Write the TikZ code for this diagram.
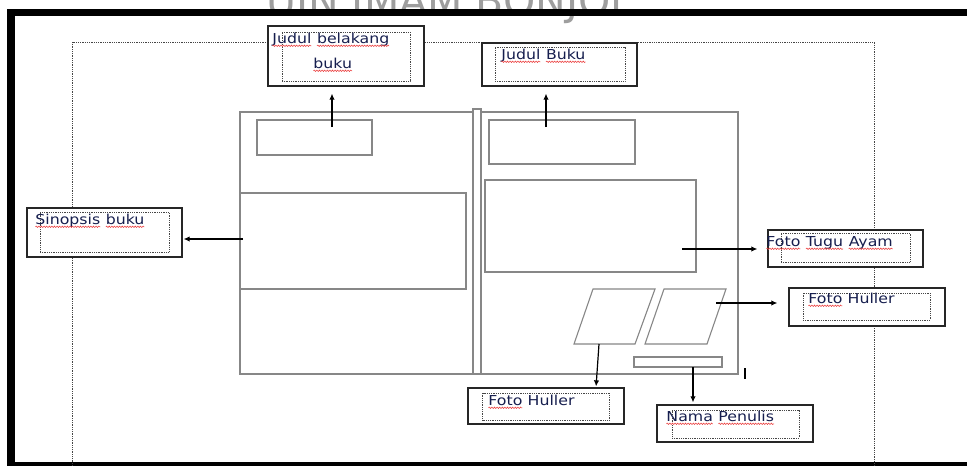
\documentclass[tikz,border=0pt]{standalone}
\usepackage{fontspec}
\newfontfamily\lblfont[FakeStretch=1.15]{DejaVu Sans}
\newfontfamily\wmfont{DejaVu Sans}
\usetikzlibrary{arrows.meta,decorations.pathmorphing,calc}
\definecolor{txtc}{RGB}{22,30,78}
\definecolor{bookc}{RGB}{135,135,135}
\definecolor{dotc}{RGB}{70,70,70}
\definecolor{wavec}{RGB}{235,60,60}
\newcommand\wv[1]{\tikz[baseline=(w.base)]{\node[inner sep=0pt,outer sep=0pt,text=txtc](w){#1};\draw[wavec,line width=0.55pt,decorate,decoration={snake,amplitude=0.7pt,segment length=2.6pt}]([yshift=-2.8pt]w.base west)--([yshift=-2.8pt]w.base east);}}
\tikzset{
  bookline/.style={draw=bookc,line width=1.5pt},
  thinbook/.style={draw=bookc,line width=1.1pt},
  lblbox/.style={draw=black!85,line width=1.3pt,fill=white,inner sep=0pt},
  dotbox/.style={draw=dotc,line width=0.8pt,dash pattern=on 0.9pt off 0.9pt,inner sep=0pt},
  pagedot/.style={draw=dotc,line width=0.8pt,dash pattern=on 0.9pt off 0.9pt},
  lbltext/.style={text=txtc,font=\lblfont\fontsize{13.7}{16}\selectfont,inner sep=0pt,anchor=base west},
  arr/.style={draw=black,line width=1.2pt,-{Latex[length=6pt,width=5.5pt]}},
}
\begin{document}
\begin{tikzpicture}[x=1pt,y=-1pt]
\useasboundingbox (0,0) rectangle (967,466);
\clip (0,0) rectangle (967,466);
\fill[white] (0,0) rectangle (967,466);
% watermark (cut at the top edge, as in the reference)
\node[anchor=base west,inner sep=0pt,text=black!38,font=\wmfont\fontsize{41}{46}\selectfont] (wm) at (266,15) {UIN IMAM BONJOL};
% outer frame
\draw[line width=7.5pt] (11,12.5) rectangle (1000,466);
% page outline
\draw[pagedot] (72,42) rectangle (874,480);
% book
\draw[bookline] (240,112) rectangle (738,374);
\draw[bookline,fill=white] (473,109) rectangle (481,374);
\draw[bookline] (257,120) rectangle (372,155);
\draw[bookline] (240,193) rectangle (466,289);
\draw[bookline] (489,120) rectangle (635,164);
\draw[bookline] (485,180) rectangle (696,272);
\draw[thinbook] (574,344) -- (635,344) -- (655,289) -- (593,289) -- cycle;
\draw[thinbook] (645,344) -- (707,344) -- (726,289) -- (664,289) -- cycle;
\draw[thinbook] (634,357) rectangle (722,367);
\draw[line width=2.6pt] (745,368) -- (745,379);
% label boxes
\node[lblbox,minimum width=156,minimum height=60] (jb) at (346,56) {};
\node[dotbox,minimum width=128,minimum height=49] (jbi) at (346,56.5) {};
\node[lblbox,minimum width=155,minimum height=43] (bk) at (559.5,64.5) {};
\node[dotbox,minimum width=130,minimum height=34] (bki) at (560,64) {};
\node[lblbox,minimum width=155,minimum height=49] (sn) at (104.5,232.5) {};
\node[dotbox,minimum width=129,minimum height=40] (sni) at (104.5,232) {};
\node[lblbox,minimum width=155,minimum height=37] (tg) at (845.5,248.5) {};
\node[dotbox,minimum width=129,minimum height=29] (tgi) at (845.5,247.5) {};
\node[lblbox,minimum width=156,minimum height=38] (fh1) at (867,307) {};
\node[dotbox,minimum width=127,minimum height=27] (fh1i) at (866.5,306.5) {};
\node[lblbox,minimum width=156,minimum height=36] (fh2) at (546,406) {};
\node[dotbox,minimum width=127,minimum height=27] (fh2i) at (546,406.5) {};
\node[lblbox,minimum width=156,minimum height=37] (np) at (735,423.5) {};
\node[dotbox,minimum width=127,minimum height=28] (npi) at (735.5,424) {};
% texts
\node[lbltext] (t1) at (272,43) {\wv{Judul} \wv{belakang}};
\node[lbltext] (t1b) at (313,68) {\wv{buku}};
\node[lbltext] (t2) at (501,59) {\wv{Judul} \wv{Buku}};
\node[lbltext] (t3) at (35,224) {\wv{Sinopsis} \wv{buku}};
\node[lbltext] (t4) at (766,246) {\wv{Foto} \wv{Tugu} \wv{Ayam}};
\node[lbltext] (t5) at (808,303) {\wv{Foto} Huller};
\node[lbltext] (t6) at (488,405) {\wv{Foto} Huller};
\node[lbltext] (t7) at (666,421) {\wv{Nama} \wv{Penulis}};
% arrow start points
\coordinate (c1) at (332,127);
\coordinate (c2) at (546,127);
\coordinate (c3) at (243,239);
\coordinate (c4) at (682,249);
\coordinate (c5) at (716,303);
\coordinate (c6) at (599,344);
\coordinate (c7) at (693,367);
\draw[arr,shorten >=7pt] (c1) -- (c1 |- jb.south);
\draw[arr,shorten >=7pt] (c2) -- (c2 |- bk.south);
\draw[arr,shorten >=1pt] (c3) -- (c3 -| sn.east);
\draw[arr,shorten >=10pt] (c4) -- (c4 -| tg.west);
\draw[arr,shorten >=11pt] (c5) -- (c5 -| fh1.west);
\draw[arr,shorten >=1pt] (c6) -- ([xshift=50pt]fh2.north);
\draw[arr,shorten >=2pt] (c7) -- (c7 |- np.north);
\end{tikzpicture}
\end{document}
